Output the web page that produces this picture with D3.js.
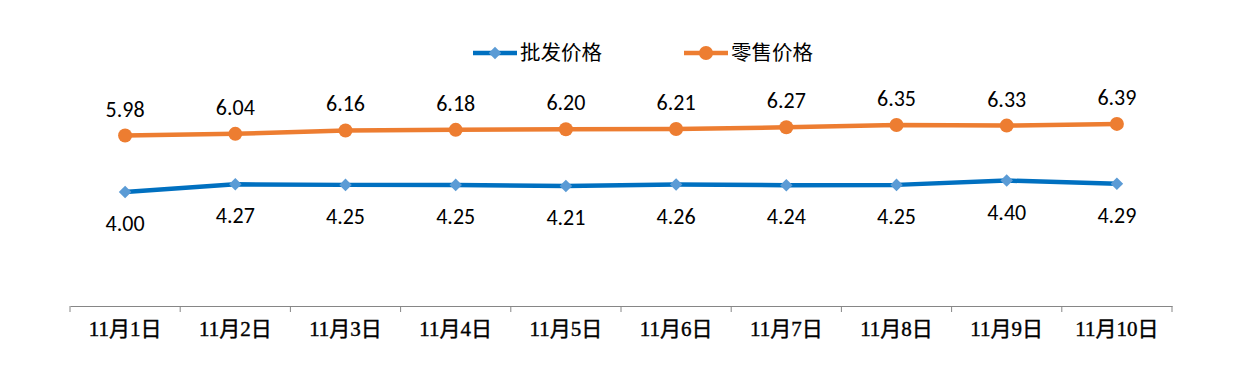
<!DOCTYPE html>
<html>
<head>
<meta charset="utf-8">
<script src="https://cdn.jsdelivr.net/npm/d3@7"></script>
<style>
body { margin: 0; background: #fff; }
</style>
</head>
<body>
<script>
var width = 1233;
var height = 370;

var dates = ["11月1日", "11月2日", "11月3日", "11月4日", "11月5日", "11月6日", "11月7日", "11月8日", "11月9日", "11月10日"];
var wholesale = [4.00, 4.27, 4.25, 4.25, 4.21, 4.26, 4.24, 4.25, 4.40, 4.29];
var retail = [5.98, 6.04, 6.16, 6.18, 6.20, 6.21, 6.27, 6.35, 6.33, 6.39];
var seriesNames = ["批发价格", "零售价格"];

var svg = d3.select("body").append("svg")
    .attr("width", width)
    .attr("height", height);

var xScale = d3.scaleBand().domain(dates).range([70, 1172]);
var yScale = d3.scaleLinear().domain([0, 8]).range([306, 78]);

// x axis
var xAxis = d3.axisBottom(xScale).tickSize(0).tickPadding(15);
var gx = svg.append("g")
    .attr("transform", "translate(0,306)")
    .call(xAxis);
gx.select(".domain").attr("stroke", "#868686").attr("stroke-width", 1);
gx.selectAll("text")
    .attr("font-family", "'Liberation Serif', 'Noto Sans CJK SC', serif")
    .attr("font-size", 21)
    .attr("fill", "#000")
    .style("stroke", "#000")
    .style("stroke-width", 0.4);

// tick marks between categories
var bounds = dates.map(d => xScale(d)).concat([xScale.range()[1]]);
svg.selectAll(".tk")
    .data(bounds)
    .enter().append("line")
    .attr("x1", d => d).attr("x2", d => d)
    .attr("y1", 306).attr("y2", 312)
    .attr("stroke", "#868686");

var cx = d => xScale(d) + xScale.bandwidth() / 2;

var wData = dates.map((d, i) => ({ x: d, v: wholesale[i] }));
var rData = dates.map((d, i) => ({ x: d, v: retail[i] }));

var line = d3.line().x(d => cx(d.x)).y(d => yScale(d.v));

svg.append("path").datum(rData)
    .attr("fill", "none").attr("stroke", "#ED7D31").attr("stroke-width", 4.5)
    .attr("stroke-linejoin", "round")
    .attr("d", line);
svg.append("path").datum(wData)
    .attr("fill", "none").attr("stroke", "#0070C0").attr("stroke-width", 4.5)
    .attr("stroke-linejoin", "round")
    .attr("d", line);

svg.selectAll(".rdot").data(rData).enter().append("circle")
    .attr("cx", d => cx(d.x)).attr("cy", d => yScale(d.v))
    .attr("r", 7).attr("fill", "#ED7D31");

var diamond = d3.symbol().type(d3.symbolDiamond2).size(100);
svg.selectAll(".wdot").data(wData).enter().append("path")
    .attr("d", diamond)
    .attr("transform", d => "translate(" + cx(d.x) + "," + yScale(d.v) + ")")
    .attr("fill", "#5B9BD5");

var labelFont = "Calibri, Carlito, 'Liberation Sans', 'Open Sans', sans-serif";
svg.selectAll(".rlab").data(rData).enter().append("text")
    .attr("x", d => cx(d.x)).attr("y", d => yScale(d.v) - 19)
    .attr("text-anchor", "middle")
    .attr("font-family", labelFont).attr("font-size", 22)
    .attr("fill", "#000")
    .text(d => d.v.toFixed(2));
svg.selectAll(".wlab").data(wData).enter().append("text")
    .attr("x", d => cx(d.x)).attr("y", d => yScale(d.v) + 39)
    .attr("text-anchor", "middle")
    .attr("font-family", labelFont).attr("font-size", 22)
    .attr("fill", "#000")
    .text(d => d.v.toFixed(2));

// legend
var legend = [
    { name: seriesNames[0], x: 473, color: "#0070C0", marker: "#5B9BD5", type: "diamond" },
    { name: seriesNames[1], x: 684, color: "#ED7D31", marker: "#ED7D31", type: "circle" }
];
legend.forEach(function (l) {
    var g = svg.append("g").attr("transform", "translate(" + l.x + ",53)");
    g.append("line").attr("x1", 0).attr("x2", 44).attr("stroke", l.color).attr("stroke-width", 4.5);
    if (l.type === "circle") {
        g.append("circle").attr("cx", 22).attr("r", 7).attr("fill", l.marker);
    } else {
        g.append("path").attr("d", diamond).attr("transform", "translate(22,0)").attr("fill", l.marker);
    }
    g.append("text").attr("x", 47).attr("y", 7)
        .attr("font-family", "'Noto Sans CJK SC', sans-serif")
        .attr("font-size", 20.5).attr("fill", "#000")
        .text(l.name);
});
</script>
</body>
</html>
